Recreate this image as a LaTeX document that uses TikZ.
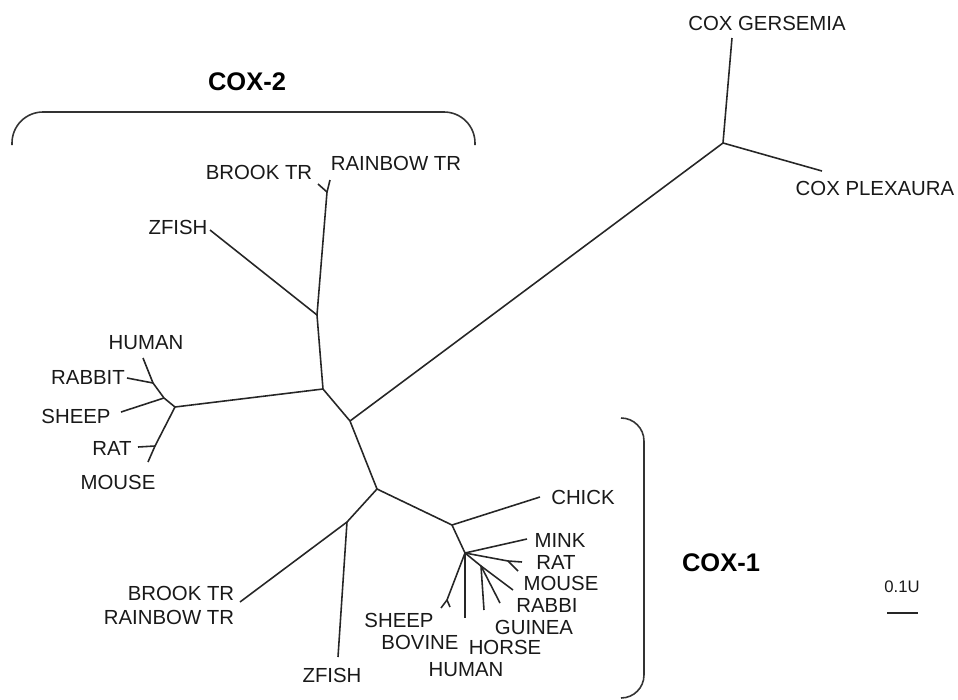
\documentclass[tikz,border=0pt]{standalone}
\usepackage{fontspec}
\setmainfont{Liberation Sans}
\usepackage{tikz}
\usetikzlibrary{calc}

\begin{document}
\begin{tikzpicture}[
    x=0.02cm, y=-0.02cm,
    every node/.style={font=\fontsize{11.6}{13}\selectfont},
    taxon/.style={inner sep=0pt, text=black!90},
    clade/.style={inner sep=0pt, font=\fontsize{14.5}{17}\selectfont\bfseries},
    branch/.style={draw=black!85, line width=0.9pt, line join=round},
    bracket/.style={draw=black!80, line width=0.9pt}
]
\useasboundingbox (0,0) rectangle (958,700);

% ============================================================
% 1. INTERNAL NODES
% ============================================================
\coordinate (root)    at (350,421);
\coordinate (cor)     at (723,143);
\coordinate (c2)      at (323,389);
\coordinate (c2fish)  at (317,315);
\coordinate (c2trout) at (327,192);
\coordinate (c2mam)   at (175,407);
\coordinate (c2m1)    at (164,398);
\coordinate (c2m2)    at (153,383);
\coordinate (c2rod)   at (155,446);
\coordinate (c1)      at (377,489);
\coordinate (c1fish)  at (347,522);
\coordinate (c1bird)  at (452,525);
\coordinate (c1mam)   at (465,553);
\coordinate (c1rod)   at (508,561);
\coordinate (c1ung)   at (481,566);
\coordinate (c1rum)   at (447,600);

% ============================================================
% 2. TIPS
% ============================================================
\coordinate (gers)     at (732,38);
\coordinate (plex)     at (822,171);
\coordinate (t2brook)  at (318,184);
\coordinate (t2rain)   at (330,180);
\coordinate (t2zfish)  at (210,230);
\coordinate (t2human)  at (143,358);
\coordinate (t2rabbit) at (127,378);
\coordinate (t2sheep)  at (121,412);
\coordinate (t2rat)    at (138,447);
\coordinate (t2mouse)  at (148,462);
\coordinate (t1trout)  at (240,602);
\coordinate (t1zfish)  at (338,657);
\coordinate (t1chick)  at (540,497);
\coordinate (t1mink)   at (527,539);
\coordinate (t1rat)    at (522,562);
\coordinate (t1mouse)  at (518,571);
\coordinate (t1rabbi)  at (513,590);
\coordinate (t1guinea) at (500,603);
\coordinate (t1horse)  at (484,610);
\coordinate (t1human)  at (465,618);
\coordinate (t1sheep)  at (441,608);
\coordinate (t1bovine) at (450,607);

% ============================================================
% 3. BRANCHES
% ============================================================
\draw[branch] (root) -- (cor);
\draw[branch] (cor) -- (gers);
\draw[branch] (cor) -- (plex);

% COX-2
\draw[branch] (root) -- (c2) -- (c2fish) -- (c2trout);
\draw[branch] (c2trout) -- (t2brook);
\draw[branch] (c2trout) -- (t2rain);
\draw[branch] (c2fish) -- (t2zfish);
\draw[branch] (c2) -- (c2mam);
\draw[branch] (c2mam) -- (c2m1) -- (c2m2) -- (t2human);
\draw[branch] (c2m1) -- (t2sheep);
\draw[branch] (c2m2) -- (t2rabbit);
\draw[branch] (c2mam) -- (c2rod) -- (t2mouse);
\draw[branch] (c2rod) -- (t2rat);

% COX-1
\draw[branch] (root) -- (c1) -- (c1fish) -- (t1trout);
\draw[branch] (c1fish) -- (t1zfish);
\draw[branch] (c1) -- (c1bird) -- (t1chick);
\draw[branch] (c1bird) -- (c1mam) -- (t1mink);
\draw[branch] (c1mam) -- (c1rod) -- (t1rat);
\draw[branch] (c1rod) -- (t1mouse);
\draw[branch] (c1mam) -- (c1ung) -- (t1rabbi);
\draw[branch] (c1ung) -- (t1guinea);
\draw[branch] (c1ung) -- (t1horse);
\draw[branch] (c1mam) -- (t1human);
\draw[branch] (c1mam) -- (c1rum) -- (t1sheep);
\draw[branch] (c1rum) -- (t1bovine);

% ============================================================
% 4. LABELS
% ============================================================
\node[taxon] (lgers)   at (767,23)  {COX GERSEMIA};
\node[taxon] (lplex)   at (875,188) {COX PLEXAURA};
\node[taxon] (l2rain)  at (396,163) {RAINBOW TR};
\node[taxon] (l2brook) at (259,172) {BROOK TR};
\node[taxon] (l2zfish) at (178,227) {ZFISH};
\node[taxon] (l2human) at (146,343) {HUMAN};
\node[taxon] (l2rabbit) at (88,377) {RABBIT};
\node[taxon] (l2sheep) at (76,416)  {SHEEP};
\node[taxon] (l2rat)   at (112,448) {RAT};
\node[taxon] (l2mouse) at (118,482) {MOUSE};
\node[taxon] (l1chick) at (583,497) {CHICK};
\node[taxon] (l1mink)  at (560,540) {MINK};
\node[taxon] (l1rat)   at (556,562) {RAT};
\node[taxon] (l1mouse) at (561,583) {MOUSE};
\node[taxon] (l1rabbi) at (547,605) {RABBI};
\node[taxon] (l1guinea) at (534,627) {GUINEA};
\node[taxon] (l1horse) at (505,647) {HORSE};
\node[taxon] (l1human) at (466,670) {HUMAN};
\node[taxon] (l1sheep) at (399,620) {SHEEP};
\node[taxon] (l1bovine) at (420,642) {BOVINE};
\node[taxon] (l1brook) at (181,593) {BROOK TR};
\node[taxon] (l1rain)  at (169,617) {RAINBOW TR};
\node[taxon] (l1zfish) at (332,675) {ZFISH};

% ============================================================
% 5. CLADES & SCALE
% ============================================================
\coordinate (b2l) at (12,145);
\coordinate (b2r) at (475,145);
\draw[bracket, rounded corners=0.62cm] (b2l) |- (244,112) -| (b2r);
\node[clade] (cox2) at (247,82) {COX-2};

\coordinate (b1t) at (621,418);
\coordinate (b1b) at (621,698);
\draw[bracket, rounded corners=0.46cm] (b1t) -| (644,560) |- (b1b);
\node[clade] (cox1) at (721,563) {COX-1};

\node[taxon, font=\fontsize{9.5}{11}\selectfont] (scale) at (902,587) {0.1U};
\coordinate (sbl) at (887,613);
\coordinate (sbr) at (918,613);
\draw[branch] (sbl) -- (sbr);

\end{tikzpicture}
\end{document}
